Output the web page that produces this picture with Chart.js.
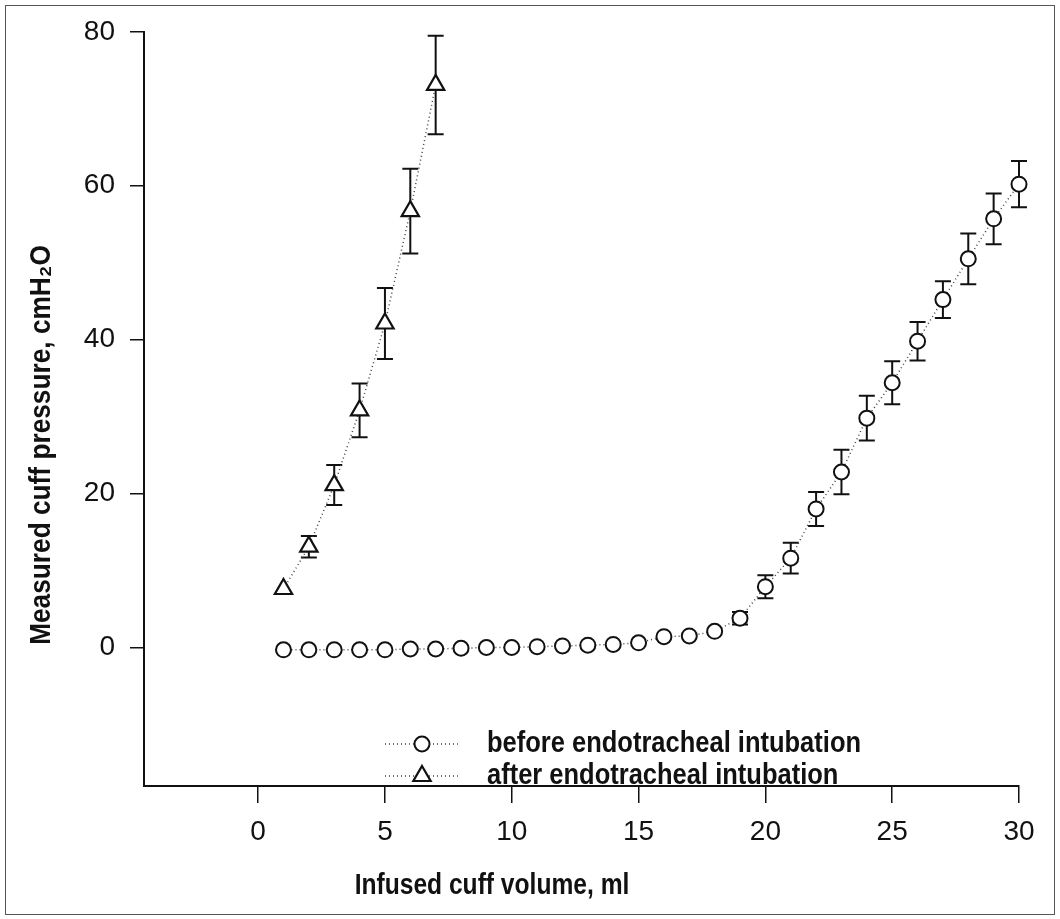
<!DOCTYPE html>
<html>
<head>
<meta charset="utf-8">
<script src="https://cdn.jsdelivr.net/npm/chart.js@4.4.1/dist/chart.umd.min.js"></script>
<style>
  html, body { margin: 0; padding: 0; background: #fff; }
  #wrap { position: relative; width: 1060px; height: 919px; }
  #frame { position: absolute; left: 5px; top: 5px; width: 1048px; height: 908px; border: 1px solid #555; pointer-events: none; }
</style>
</head>
<body>
<div id="wrap">
  <canvas id="cuff-graph"></canvas>
  <div id="frame"></div>
</div>
<script>
// infused volume (ml) and measured pressure (cmH2O)
const volumeBefore = [1, 2, 3, 4, 5, 6, 7, 8, 9, 10, 11, 12, 13, 14, 15, 16, 17, 18, 19, 20, 21, 22, 23, 24, 25, 26, 27, 28, 29, 30];
const pressureBefore = [-0.3, -0.3, -0.3, -0.3, -0.3, -0.2, -0.2, -0.1, 0, 0, 0.1, 0.2, 0.3, 0.4, 0.6, 1.4, 1.5, 2.1, 3.8, 7.9, 11.6, 18.0, 22.8, 29.8, 34.4, 39.8, 45.2, 50.5, 55.7, 60.2];
const errorBefore = [0, 0, 0, 0, 0, 0, 0, 0, 0, 0, 0, 0, 0, 0, 0, 0, 0, 0, 0.8, 1.5, 2.0, 2.2, 2.9, 2.9, 2.8, 2.5, 2.4, 3.3, 3.3, 3.0];

const volumeAfter = [1, 2, 3, 4, 5, 6, 7];
const pressureAfter = [7.6, 13.1, 21.1, 30.8, 42.1, 56.7, 73.1];
const errorAfter = [0, 1.4, 2.6, 3.5, 4.6, 5.5, 6.4];

const xTicks = [0, 5, 10, 15, 20, 25, 30];
const yTicks = [0, 20, 40, 60, 80];
const seriesLabels = ['before endotracheal intubation', 'after endotracheal intubation'];
const xTitle = 'Infused cuff volume, ml';
const yTitle = 'Measured cuff pressure, cmH\u2082O';

const INK = '#111';
const tickFont = { family: "'Liberation Sans', Arial, sans-serif", size: 28 };
const labelFont = "bold 30px 'Liberation Sans Narrow', 'Liberation Sans', Arial, sans-serif";

// no narrow face installed, so squeeze the regular one
function narrowText(ctx, text, x, y, squeeze) {
    ctx.save();
    ctx.translate(x, y);
    ctx.scale(squeeze, 1);
    ctx.fillText(text, 0, 0);
    ctx.restore();
}

const errorBars = {
    id: 'errorBars',
    beforeDatasetsDraw(chart) {
        const ctx = chart.ctx;
        const xs = chart.scales.x, ys = chart.scales.y;
        ctx.save();
        ctx.strokeStyle = INK;
        ctx.lineWidth = 2;
        chart.data.datasets.forEach(ds => {
            ds.data.forEach((p, i) => {
                const e = ds.errors[i];
                if (!e) return;
                const x = xs.getPixelForValue(p.x);
                const top = ys.getPixelForValue(p.y + e);
                const bot = ys.getPixelForValue(p.y - e);
                ctx.beginPath();
                ctx.moveTo(x, top); ctx.lineTo(x, bot);
                ctx.moveTo(x - 8, top); ctx.lineTo(x + 8, top);
                ctx.moveTo(x - 8, bot); ctx.lineTo(x + 8, bot);
                ctx.stroke();
            });
        });
        ctx.restore();
    }
};

// legend sits inside the plot, under the flat part of the curve
const innerLegend = {
    id: 'innerLegend',
    afterDraw(chart) {
        const ctx = chart.ctx;
        const left = 385, textX = 487, top = 744, rowGap = 32;
        ctx.save();
        chart.data.datasets.forEach((ds, i) => {
            const y = top + i * rowGap;
            ctx.strokeStyle = ds.borderColor;
            ctx.lineWidth = ds.borderWidth;
            ctx.setLineDash(ds.borderDash);
            ctx.beginPath();
            ctx.moveTo(left, y);
            ctx.lineTo(left + 75, y);
            ctx.stroke();
            ctx.setLineDash([]);
            ctx.fillStyle = '#fff';
            ctx.strokeStyle = INK;
            ctx.lineWidth = ds.pointBorderWidth;
            Chart.helpers.drawPoint(ctx, {
                pointStyle: ds.pointStyle,
                radius: ds.pointRadius,
                borderWidth: ds.pointBorderWidth
            }, left + 37, y);
            ctx.fillStyle = INK;
            ctx.font = labelFont;
            ctx.textBaseline = 'middle';
            ctx.textAlign = 'left';
            narrowText(ctx, ds.label, textX, y, 0.85);
        });
        ctx.restore();
    }
};

const axisTitles = {
    id: 'axisTitles',
    afterDraw(chart) {
        const ctx = chart.ctx;
        ctx.save();
        ctx.fillStyle = INK;
        ctx.font = labelFont;
        ctx.textAlign = 'center';
        ctx.textBaseline = 'middle';
        narrowText(ctx, xTitle, 492, 886, 0.82);
        ctx.translate(42, 445);
        ctx.rotate(-Math.PI / 2);
        narrowText(ctx, yTitle, 0, 0, 0.875);
        ctx.restore();
    }
};

const ctx = document.getElementById('cuff-graph').getContext('2d');

new Chart(ctx, {
    type: 'line',
    data: {
        datasets: [{
            label: seriesLabels[0],
            data: volumeBefore.map((v, i) => ({ x: v, y: pressureBefore[i] })),
            errors: errorBefore,
            borderColor: '#444',
            borderWidth: 1.5,
            borderDash: [1, 3],
            pointStyle: 'circle',
            pointRadius: 7.5,
            pointBorderWidth: 2,
            pointBorderColor: INK,
            pointBackgroundColor: '#fff',
            clip: false
        }, {
            label: seriesLabels[1],
            data: volumeAfter.map((v, i) => ({ x: v, y: pressureAfter[i] })),
            errors: errorAfter,
            borderColor: '#444',
            borderWidth: 1.5,
            borderDash: [1, 3],
            pointStyle: 'triangle',
            pointRadius: 10,
            pointBorderWidth: 2.2,
            pointBorderColor: INK,
            pointBackgroundColor: '#fff',
            clip: false
        }]
    },
    options: {
        responsive: true,
        maintainAspectRatio: false,
        animation: false,
        layout: { padding: { top: 26, right: 41, left: 0, bottom: 0 } },
        plugins: {
            legend: { display: false },
            tooltip: { enabled: false }
        },
        elements: { line: { tension: 0 } },
        scales: {
            x: {
                type: 'linear',
                min: -4.5,
                max: 30,
                afterBuildTicks: scale => { scale.ticks = xTicks.map(v => ({ value: v })); },
                afterFit: scale => { scale.height = 133; },
                grid: { drawOnChartArea: false, drawTicks: true, tickLength: 17, color: INK, lineWidth: 1.5 },
                border: { display: true, color: INK, width: 2 },
                ticks: { color: INK, font: tickFont, padding: 12, maxRotation: 0, autoSkip: false }
            },
            y: {
                type: 'linear',
                min: -18,
                max: 80,
                afterBuildTicks: scale => { scale.ticks = yTicks.map(v => ({ value: v })); },
                afterFit: scale => { scale.width = 144; },
                grid: { drawOnChartArea: false, drawTicks: true, tickLength: 14, color: INK, lineWidth: 1.5 },
                border: { display: true, color: INK, width: 2 },
                ticks: { color: INK, font: tickFont, padding: 15, autoSkip: false }
            }
        }
    },
    plugins: [errorBars, innerLegend, axisTitles]
});
</script>
</body>
</html>
